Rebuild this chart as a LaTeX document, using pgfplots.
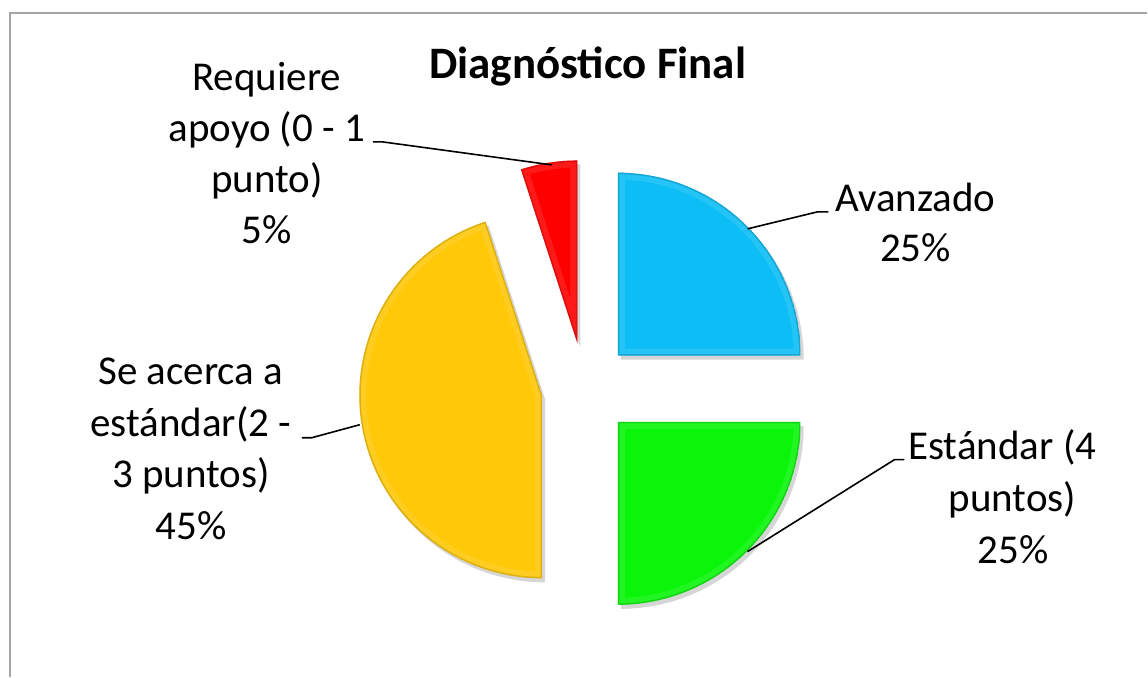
\documentclass[border=0pt]{standalone}
\usepackage{fontspec}
\setmainfont{Carlito}
\usepackage{pgfplots}
\usepackage{pgfplotstable}
\pgfplotsset{compat=1.18}

\definecolor{slice0}{RGB}{12,190,245}
\definecolor{slice1}{RGB}{10,245,10}
\definecolor{slice2}{RGB}{255,200,8}
\definecolor{slice3}{RGB}{255,0,0}
\definecolor{framegray}{RGB}{165,165,165}

% percentage and explosion distance (px) of each slice, clockwise from 12 o'clock
\pgfplotstableread{
pct explode
25 47
25 47
45 43
5  46
}\piedata

\newcommand{\lbl}[3]{\node[anchor=base,inner sep=0pt,font=\fontsize{41}{51}\selectfont] at (axis cs:#1,#2) {#3};}

\begin{document}
\begin{tikzpicture}
\begin{axis}[
  x=1pt, y=1pt,
  xmin=0, xmax=1148, ymin=0, ymax=677,
  hide axis, clip=false,
]
\path (axis cs:0,0) (axis cs:1148,677);
% chart frame
\draw[framegray, line width=1.5pt] (axis cs:10,0) -- (axis cs:10,664) -- (axis cs:1148,664);

\def\cum{0}
\pgfplotsforeachungrouped \i in {0,...,3}{%
  \pgfplotstablegetelem{\i}{pct}\of\piedata \let\p\pgfplotsretval
  \pgfplotstablegetelem{\i}{explode}\of\piedata \let\e\pgfplotsretval
  \pgfmathsetmacro\sa{90-\cum-\p*3.6}%
  \pgfmathsetmacro\ea{90-\cum}%
  \pgfmathsetmacro\ma{(\sa+\ea)/2}%
  \pgfmathsetmacro\cx{585+\e*cos(\ma)}%
  \pgfmathsetmacro\cy{288+\e*sin(\ma)}%
  \pgfmathsetmacro\sx{\cx+3}%
  \pgfmathsetmacro\sy{\cy-4}%
  \edef\temp{%
    \noexpand\fill[black, opacity=0.16] (axis cs:\sx,\sy) -- ++(\sa:183pt) arc[start angle=\sa, end angle=\ea, radius=183pt] -- cycle;
    \noexpand\begin{scope}
    \noexpand\clip (axis cs:\cx,\cy) -- ++(\sa:183pt) arc[start angle=\sa, end angle=\ea, radius=183pt] -- cycle;
    \noexpand\fill[slice\i] (axis cs:\cx,\cy) -- ++(\sa:183pt) arc[start angle=\sa, end angle=\ea, radius=183pt] -- cycle;
    \noexpand\draw[white, opacity=0.10, line width=14pt] (axis cs:\cx,\cy) -- ++(\sa:183pt) arc[start angle=\sa, end angle=\ea, radius=183pt] -- cycle;
    \noexpand\draw[slice\i!70!black, opacity=0.45, line width=3pt] (axis cs:\cx,\cy) -- ++(\sa:183pt) arc[start angle=\sa, end angle=\ea, radius=183pt] -- cycle;
    \noexpand\end{scope}
  }%
  \temp
  \pgfmathsetmacro\cum{\cum+\p*3.6}%
}

% leader lines
\draw[black, line width=1.6pt] (axis cs:748,448) -- (axis cs:818,465) -- (axis cs:829,465);
\draw[black, line width=1.6pt] (axis cs:748,125) -- (axis cs:895,217) -- (axis cs:905,217);
\draw[black, line width=1.6pt] (axis cs:302,239) -- (axis cs:312,239) -- (axis cs:360,252);
\draw[black, line width=1.6pt] (axis cs:373,535) -- (axis cs:383,535) -- (axis cs:552,512);

% title
\node[anchor=base,inner sep=0pt,font=\fontsize{45}{54}\selectfont\bfseries] at (axis cs:588,598) {Diagnóstico Final};

% labels
\lbl{916}{465}{Avanzado}
\lbl{916}{415}{25\%}

\lbl{1003}{217}{Estándar (4}
\lbl{1013}{165}{puntos)}
\lbl{1014}{113}{25\%}

\lbl{191}{292}{Se acerca a}
\lbl{191}{240}{estándar(2 -}
\lbl{191}{189}{3 puntos)}
\lbl{191}{137}{45\%}

\lbl{267}{586}{Requiere}
\lbl{267}{535}{apoyo (0 - 1}
\lbl{267}{484}{punto)}
\lbl{267}{433}{5\%}
\end{axis}
\end{tikzpicture}
\end{document}
